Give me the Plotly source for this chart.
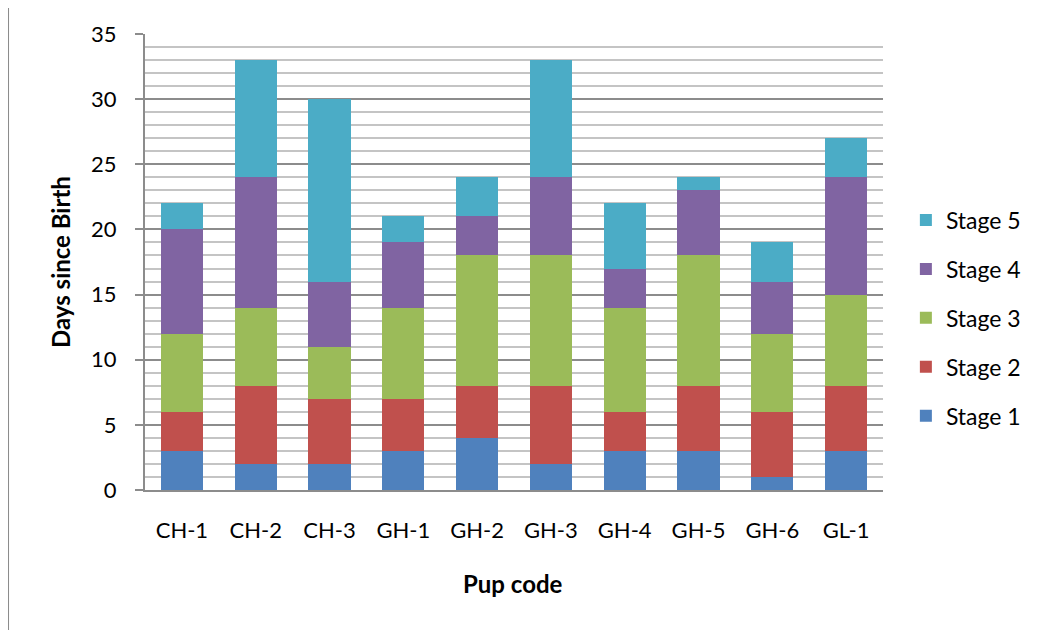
import plotly.graph_objects as go

pups = ["CH-1", "CH-2", "CH-3", "GH-1", "GH-2", "GH-3", "GH-4", "GH-5", "GH-6", "GL-1"]
stage1 = [3, 2, 2, 3, 4, 2, 3, 3, 1, 3]
stage2 = [3, 6, 5, 4, 4, 6, 3, 5, 5, 5]
stage3 = [6, 6, 4, 7, 10, 10, 8, 10, 6, 7]
stage4 = [8, 10, 5, 5, 3, 6, 3, 5, 4, 9]
stage5 = [2, 9, 14, 2, 3, 9, 5, 1, 3, 3]
series_names = ["Stage 1", "Stage 2", "Stage 3", "Stage 4", "Stage 5"]
colors = ["#4F81BD", "#C0504D", "#9BBB59", "#8064A2", "#4BACC6"]

FONT = "Lato"
fig = go.Figure()
for i, (name, vals, col) in enumerate(zip(series_names, [stage1, stage2, stage3, stage4, stage5], colors)):
    fig.add_trace(go.Bar(x=pups, y=vals, name=name, legendgroup=name, legendrank=10 - i,
                         marker=dict(color=col, line=dict(width=0))))

fig.update_layout(
    width=1040, height=630,
    barmode="stack", bargap=0.43,
    plot_bgcolor="white", paper_bgcolor="white",
    margin=dict(l=137, r=165, t=26, b=148),
    font=dict(family=FONT, size=22, color="black"),
    showlegend=True,
    legend=dict(x=1.031, xanchor="left", y=0.377, yanchor="middle",
                traceorder="grouped", tracegroupgap=16,
                font=dict(family=FONT, size=23, color="black"),
                itemwidth=30, bgcolor="rgba(0,0,0,0)"),
    xaxis=dict(showline=True, linecolor="#8c8c8c", linewidth=2, ticks="",
               showgrid=False, ticklabelstandoff=20,
               tickfont=dict(family=FONT, size=22, color="black")),
    yaxis=dict(range=[0, 35], dtick=5, tick0=0, showline=True, linecolor="#8c8c8c", linewidth=2,
               ticks="outside", ticklen=8, tickcolor="#8c8c8c", tickwidth=2,
               showgrid=True, gridcolor="#8c8c8c", gridwidth=2,
               ticklabelstandoff=14,
               minor=dict(dtick=1, showgrid=True, gridcolor="#c4c4c4", gridwidth=2, ticks=""),
               tickfont=dict(family=FONT, size=22, color="black"), zeroline=False),
    annotations=[
        dict(text="<b>Days since Birth</b>", xref="paper", yref="paper", x=-0.1152, y=0.5,
             textangle=-90, showarrow=False, font=dict(family=FONT, size=24, color="black"),
             xanchor="center", yanchor="middle"),
        dict(text="<b>Pup code</b>", xref="paper", yref="paper", x=0.4987, y=-0.204,
             showarrow=False, font=dict(family=FONT, size=24, color="black"),
             xanchor="center", yanchor="middle"),
    ],
    shapes=[dict(type="rect", xref="paper", yref="paper", x0=-0.1856, x1=1.2195,
                 y0=-0.33, y1=1.0636, line=dict(color="#8c8c8c", width=2), layer="below")],
)

fig.write_html("out.html")
